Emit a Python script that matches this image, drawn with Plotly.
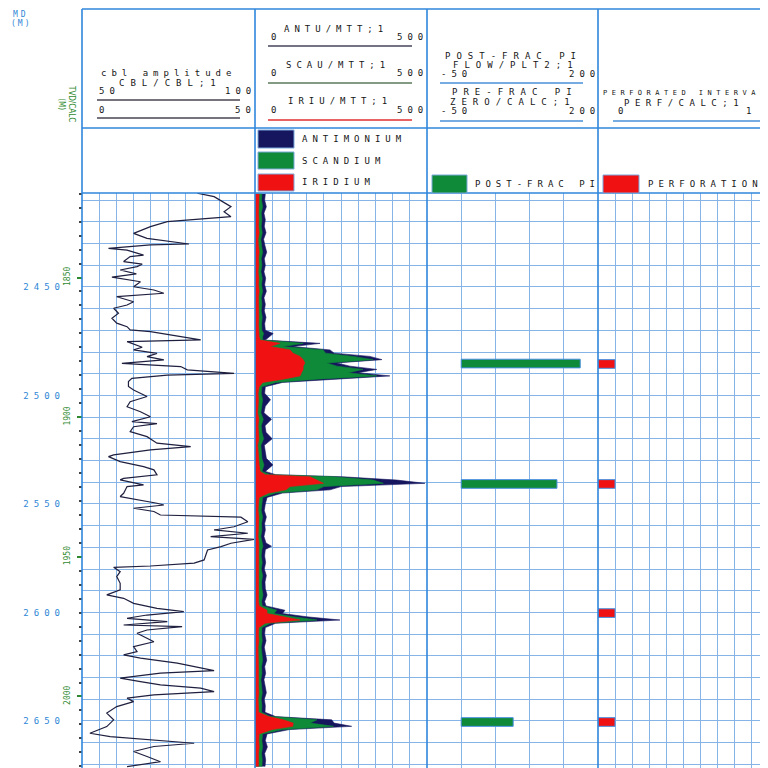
import plotly.graph_objects as go

# --- dane: krzywa CBL (MD w metrach, amplituda w skali 0-50) ---
cbl_depth = [2406.8, 2408.4, 2413.0, 2415.3, 2417.6, 2419.9, 2422.2, 2425.3, 2427.6, 2429.1,
             2430.2, 2430.6, 2432.2, 2433.0, 2435.3, 2436.0, 2438.3, 2439.5, 2440.6, 2442.2,
             2444.0, 2445.5, 2447.6,
             2449.9, 2451.4, 2452.9, 2454.5, 2456.8, 2458.3, 2459.8, 2462.1, 2464.4, 2466.7,
             2468.3, 2469.8, 2470.6, 2472.9, 2474.4, 2475.2, 2476.7, 2477.8, 2479.0, 2480.6,
             2482.1, 2483.6, 2485.2, 2486.7, 2488.2, 2489.8, 2490.6, 2492.1, 2493.6, 2495.9,
             2497.5, 2500.5, 2502.9, 2505.2, 2507.5, 2509.8, 2512.1, 2513.0, 2514.4, 2516.7,
             2519.0, 2522.0, 2523.6, 2525.1, 2527.4, 2528.2, 2530.5, 2532.8, 2534.3, 2536.6,
             2538.2,
             2538.9, 2541.2, 2542.0, 2545.1, 2546.6, 2549.7, 2550.5, 2552.0, 2553.5, 2555.1,
             2556.1, 2558.2, 2560.5, 2562.0, 2563.5, 2565.1, 2566.3, 2568.1, 2569.7, 2571.2,
             2573.5, 2575.8, 2577.3, 2578.6, 2579.2, 2581.2, 2583.5, 2586.6, 2589.6, 2591.9,
             2593.5, 2595.8, 2598.1, 2599.6, 2601.2, 2602.7, 2604.2, 2605.8, 2606.5, 2608.1,
             2609.6, 2611.2, 2613.5, 2615.8, 2618.1, 2619.6, 2621.1, 2623.4, 2625.7, 2626.8,
             2628.0, 2630.3, 2631.9, 2633.4, 2634.9, 2636.5, 2638.0, 2639.5, 2641.1, 2643.4,
             2646.4, 2649.5, 2652.6, 2655.7, 2657.2, 2659.5, 2660.3, 2661.8, 2664.1, 2666.4,
             2668.8, 2671.1]
cbl_amp = [33.5, 38.4, 43.3, 41.3, 43.3, 24.8, 19.9, 15.0, 18.9, 25.7,
           31.1, 19.9, 7.7, 13.1, 17.9, 14.0, 12.1, 17.5, 16.0, 11.1,
           15.8, 8.7, 17.0,
           15.0, 20.9, 23.8, 10.1, 15.0, 13.1, 9.2, 10.6, 8.7, 10.1,
           13.1, 14.0, 19.9, 29.6, 34.5, 13.1, 16.0, 17.5, 15.0, 21.8,
           18.9, 23.8, 11.6, 28.7, 30.6, 44.2, 24.8, 14.5, 13.5, 13.5,
           15.0, 18.9, 14.0, 13.1, 17.0, 19.9, 14.5, 21.8, 15.0, 14.0,
           18.9, 21.8, 31.6, 19.9, 9.2, 7.7, 11.1, 17.9, 20.9, 21.8,
           12.1,
           11.1, 17.9, 13.1, 12.1, 11.1, 21.8, 23.8, 15.0, 20.9, 22.8,
           46.2, 48.2, 44.2, 38.4, 48.2, 37.4, 50.0, 43.3, 40.4, 36.5,
           36.0, 35.5, 32.6, 19.9, 9.2, 11.1, 10.1, 11.1, 11.1, 7.2,
           12.1, 15.0, 21.8, 29.6, 18.9, 13.1, 24.8, 12.1, 29.1, 18.9,
           16.0, 17.9, 20.9, 15.0, 16.0, 12.1, 17.0, 27.7, 34.5, 38.4,
           22.8, 11.1, 17.0, 22.8, 34.5, 38.4, 20.9, 13.1, 15.0, 10.1,
           7.2, 9.2, 7.2, 2.3, 8.2, 24.8, 32.6, 20.9, 15.0, 18.9,
           22.8, 13.1]

# --- dane: znaczniki (ANTU / SCAU / IRIU, skala 0-500) ---
tr_depth = [2407, 2410, 2413, 2416, 2419, 2422, 2425, 2428, 2431, 2434, 2437, 2440,
            2443, 2446, 2449, 2452, 2455, 2458, 2461, 2464, 2467, 2470,
            2471.5, 2473, 2474.5, 2476, 2477.5, 2479, 2480.5, 2482, 2483.5, 2485,
            2486.5, 2488, 2489.5, 2491, 2492.5, 2494, 2496,
            2499, 2502, 2505, 2508, 2511, 2514, 2517, 2520, 2523, 2526, 2529, 2532, 2535,
            2536.5, 2537.5, 2539, 2540.5, 2542, 2543.5, 2545, 2547,
            2550, 2553, 2556, 2559, 2562, 2565, 2568, 2569.5, 2571, 2574, 2577, 2580,
            2583, 2586, 2589, 2592, 2595, 2597,
            2599, 2600.5, 2602, 2603.5, 2605, 2607,
            2610, 2613, 2616, 2619, 2622, 2625, 2628, 2631, 2634, 2637, 2640, 2643, 2646,
            2648, 2649.5, 2651, 2652.5, 2654, 2656,
            2659, 2662, 2665, 2668, 2671]
antu = [30, 28, 33, 26, 30, 27, 32, 25, 29, 34, 27, 30,
        26, 31, 28, 33, 26, 30, 27, 32, 28, 30,
        53, 40, 30, 189, 110, 218, 230, 334, 369, 238,
        276, 354, 300, 392, 228, 80, 30,
        28, 45, 30, 26, 48, 29, 32, 50, 27, 30, 33, 52, 30,
        60, 256, 412, 494, 250, 218, 80, 35,
        30, 27, 33, 28, 30, 26, 32, 48, 30, 28, 31, 27,
        33, 29, 30, 35, 28, 32,
        87, 80, 150, 247, 60, 30,
        28, 32, 27, 30, 34, 28, 31, 26, 30, 33, 27, 30, 29,
        60, 223, 230, 281, 100, 35,
        30, 36, 28, 31, 29]
scau = [20, 19, 22, 18, 20, 18, 21, 17, 19, 22, 18, 20,
        17, 21, 19, 22, 18, 20, 18, 21, 19, 20,
        25, 22, 22, 140, 80, 198, 205, 285, 343, 209,
        238, 314, 270, 354, 180, 60, 20,
        18, 22, 19, 17, 24, 18, 20, 25, 17, 19, 20, 26, 20,
        45, 228, 343, 373, 200, 180, 60, 22,
        20, 18, 22, 19, 20, 17, 21, 23, 20, 18, 21, 18,
        22, 19, 20, 23, 19, 21,
        63, 55, 110, 180, 45, 20,
        19, 21, 18, 20, 22, 19, 20, 17, 19, 21, 18, 20, 19,
        45, 180, 160, 228, 80, 22,
        20, 22, 19, 21, 20]
iriu = [12, 11, 12, 10, 11, 10, 12, 9, 10, 12, 10, 11,
        9, 11, 10, 12, 10, 11, 10, 11, 10, 11,
        12, 12, 15, 73, 44, 102, 110, 131, 140, 145,
        140, 140, 135, 131, 82, 23, 12,
        9, 10, 9, 8, 11, 9, 10, 11, 8, 9, 10, 12, 15,
        30, 160, 180, 199, 102, 90, 40, 12,
        10, 9, 11, 10, 10, 9, 11, 11, 10, 9, 10, 9,
        11, 10, 10, 11, 10, 12,
        35, 35, 80, 131, 30, 11,
        10, 11, 9, 10, 11, 10, 10, 9, 10, 11, 9, 10, 10,
        40, 82, 111, 110, 50, 12,
        11, 12, 10, 11, 10]

# --- dane: PI po szczelinowaniu i interwały perforacji ---
pi_depth = [2485.3, 2540.8, 2650.5]
pi_post = [174, 140, 76]
perf_depth = [2485.5, 2540.8, 2600.3, 2650.5]
perf_flag = [0.1, 0.1, 0.1, 0.1]

md_ticks = [2450, 2500, 2550, 2600, 2650]

assert len(cbl_depth) == len(cbl_amp)
assert len(tr_depth) == len(antu) == len(scau) == len(iriu)

# strona ma margines 8 px, wiec wykres ma 760 px i zaczyna sie od (8, 8)
OFF = 8
W = 760
MONO = "DejaVu Sans Mono"
TXT = "#161616"
BORDER = "#2f86dc"
GRID = "#86b4e6"
NAVY = "#16165e"
GREEN = "#0e8a38"
RED = "#f01212"
MDBLUE = "#2f86d6"
TVDGREEN = "#2f8a2f"


def px(x):
    return (x - OFF) / W


def py(y):
    return 1 - (y - OFF) / W


fig = go.Figure()

fig.add_trace(go.Scatter(x=cbl_amp, y=cbl_depth, xaxis="x", yaxis="y", mode="lines",
                         line=dict(color="#1f1f3f", width=1.2), hoverinfo="skip"))
fig.add_trace(go.Scatter(x=[None], y=[None], xaxis="x", yaxis="y2", hoverinfo="skip"))

for vals, col in [(antu, NAVY), (scau, GREEN), (iriu, RED)]:
    fig.add_trace(go.Scatter(x=vals, y=tr_depth, xaxis="x2", yaxis="y", mode="lines",
                             fill="tozerox", fillcolor=col,
                             line=dict(color=col, width=0.6), hoverinfo="skip"))

fig.add_trace(go.Bar(x=pi_post, y=pi_depth, orientation="h", width=4, xaxis="x3", yaxis="y",
                     marker=dict(color=GREEN, line=dict(color="#4a90e0", width=1))))
fig.add_trace(go.Bar(x=perf_flag, y=perf_depth, orientation="h", width=4, xaxis="x4", yaxis="y",
                     marker=dict(color=RED, line=dict(color="#4a90e0", width=1))))


def track_axis(x0, x1, rng, dt):
    return dict(domain=[px(x0), px(x1)], range=rng, anchor="y", showticklabels=False,
                ticks="", showgrid=True, gridcolor=GRID, gridwidth=1, tick0=rng[0],
                dtick=dt, zeroline=False, showline=False, fixedrange=True)


sp = lambda t, s=3: f'<span style="letter-spacing:{s}px">{t}</span>'

fig.update_layout(
    width=W, height=W, margin=dict(l=0, r=0, t=0, b=0),
    paper_bgcolor="white", plot_bgcolor="white", showlegend=False,
    xaxis=track_axis(82, 254, [0, 50], 5),
    xaxis2=track_axis(255, 427, [0, 500], 50),
    xaxis3=track_axis(427, 598, [-50, 200], 50),
    xaxis4=track_axis(598, 768, [0, 1], 0.1),
    yaxis=dict(domain=[0, py(193)], range=[2671.7, 2406.7], anchor="x", side="left",
               tickmode="array", tickvals=md_ticks, ticktext=[sp(v, 5) for v in md_ticks],
               tickfont=dict(family=MONO, size=9, color=MDBLUE), ticks="",
               ticklabelstandoff=16, showgrid=True, gridcolor=GRID, zeroline=False,
               minor=dict(tickmode="linear", tick0=2410, dtick=10, showgrid=True,
                          gridcolor=GRID, gridwidth=1), fixedrange=True),
    yaxis2=dict(overlaying="y", anchor="free", position=px(82), side="left",
                range=[2025.6, 1819.75], tickmode="linear", tick0=1850, dtick=50,
                ticks="outside", ticklen=5, tickwidth=1.5, tickcolor=TVDGREEN,
                tickfont=dict(family=MONO, size=8, color=TVDGREEN), tickangle=-90,
                ticklabelstandoff=4, showgrid=False, zeroline=False, showline=False,
                minor=dict(tickmode="linear", tick0=1850, dtick=5, ticks="outside",
                           ticklen=3, tickcolor="#444444"), fixedrange=True),
)

# --- ramki nagłówka i ścieżek ---
shapes = []
for xb in [82, 255, 427, 598]:
    shapes.append(dict(type="line", xref="paper", yref="paper", x0=px(xb), x1=px(xb),
                       y0=py(9), y1=0, line=dict(color=BORDER, width=1.6)))
for yb in [9, 128, 193]:
    shapes.append(dict(type="line", xref="paper", yref="paper", x0=px(82), x1=1,
                       y0=py(yb), y1=py(yb), line=dict(color=BORDER, width=1.6)))

# linie skali w nagłówku
for x0, x1, yl, col in [(97, 240, 100, "#4a4450"), (97, 240, 118, "#4a4450"),
                        (268, 412, 46, "#44445a"), (268, 412, 83, "#5a7a5a"),
                        (268, 412, 120, "#e03030"),
                        (440, 583, 83, "#4a90d9"), (440, 583, 121, "#4a90d9"),
                        (613, 768, 121, "#4a90d9")]:
    shapes.append(dict(type="line", xref="paper", yref="paper", x0=px(x0), x1=px(x1),
                       y0=py(yl), y1=py(yl), line=dict(color=col, width=1.4)))

# próbki legendy
for x0, x1, y0, y1, col in [(258, 294, 130, 148, NAVY), (258, 294, 152, 169, GREEN),
                            (258, 294, 174, 191, RED), (432, 467, 175, 193, GREEN),
                            (603, 639, 175, 193, RED)]:
    shapes.append(dict(type="rect", xref="paper", yref="paper", x0=px(x0), x1=px(x1),
                       y0=py(y0), y1=py(y1), fillcolor=col, line=dict(color="#7aa8dd", width=1)))

fig.update_layout(shapes=shapes)


def label(x, y, text, anchor="center", size=9, spacing=5, color=TXT, angle=0):
    return dict(x=px(x), y=py(y), xref="paper", yref="paper", text=sp(text, spacing),
                showarrow=False, xanchor=anchor, yanchor="middle", textangle=angle,
                font=dict(family=MONO, size=size, color=color))


ann = [
    label(21, 14, "MD", size=8, spacing=3, color=MDBLUE),
    label(21, 23, "(M)", size=8, spacing=2, color=MDBLUE),
    dict(x=px(67), y=py(103), xref="paper", yref="paper", showarrow=False,
         text="TVD/CALC<br>(M)", textangle=90, xanchor="center", yanchor="middle",
         font=dict(family="DejaVu Sans Condensed", size=8, color=TVDGREEN)),
    label(168, 73, "cbl amplitude"),
    label(170, 83, "CBL/CBL;1", spacing=6),
    label(97, 91, "50", anchor="left"), label(258, 91, "100", anchor="right"),
    label(97, 110, "0", anchor="left"), label(258, 110, "50", anchor="right"),
    label(336, 29, "ANTU/MTT;1"),
    label(269, 37, "0", anchor="left"), label(430, 37, "500", anchor="right"),
    label(338, 65, "SCAU/MTT;1"),
    label(269, 73, "0", anchor="left"), label(430, 73, "500", anchor="right"),
    label(340, 101, "IRIU/MTT;1"),
    label(269, 110, "0", anchor="left"), label(430, 110, "500", anchor="right"),
    label(514, 56, "POST-FRAC PI", spacing=6),
    label(516, 65, "FLOW/PLT2;1", spacing=6),
    label(439, 74, "-50", anchor="left"), label(602, 74, "200", anchor="right"),
    label(515, 92, "PRE-FRAC PI", spacing=6),
    label(513, 102, "ZERO/CALC;1", spacing=6),
    label(439, 111, "-50", anchor="left"), label(602, 111, "200", anchor="right"),
    label(601, 93, "PERFORATED INTERVAL", anchor="left", size=7, spacing=4.5),
    label(684, 103, "PERF/CALC;1", spacing=5.5),
    label(616, 111, "0", anchor="left"), label(758, 111, "1", anchor="right"),
    label(300, 139, "ANTIMONIUM", anchor="left"),
    label(300, 161, "SCANDIUM", anchor="left"),
    label(300, 182, "IRIDIUM", anchor="left"),
    label(473, 184, "POST-FRAC PI", anchor="left"),
    label(646, 184, "PERFORATION", anchor="left"),
]
fig.update_layout(annotations=ann)

fig.write_html("out.html")
